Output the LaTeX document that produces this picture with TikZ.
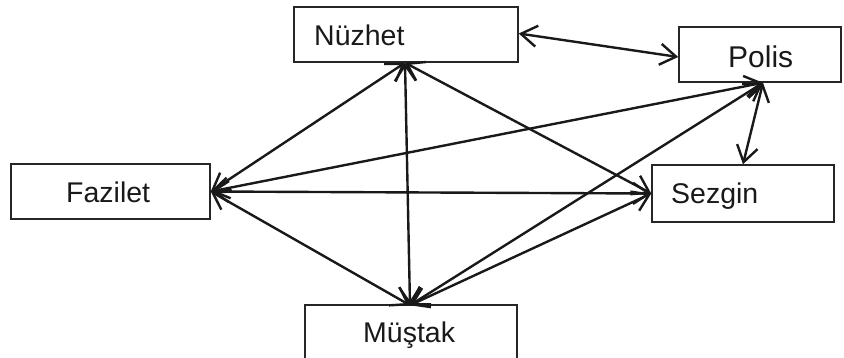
\documentclass[tikz,border=0pt]{standalone}
\usepackage{fontspec}
\setmainfont{Liberation Sans}
\usetikzlibrary{arrows.meta}
\begin{document}
\begin{tikzpicture}[x=1pt,y=-1pt,
  box/.style={draw=black!85, line width=1.5pt, rectangle, inner sep=0pt},
  lbl/.style={font=\fontsize{28.5}{30}\selectfont, text=black!90, inner sep=0pt, anchor=base west},
  link/.style={line width=2.4pt, draw=black!90,
    {Straight Barb[length=16pt,width=21pt]}-{Straight Barb[length=16pt,width=21pt]}}]
\clip (0,0) rectangle (844,357);
% boxes
\node[box, minimum width=224pt, minimum height=55pt] (nuz) at (406,34.5) {};
\node[box, minimum width=162pt, minimum height=55pt] (pol) at (760,54.5) {};
\node[box, minimum width=199pt, minimum height=55pt] (faz) at (110.5,191.5) {};
\node[box, minimum width=182pt, minimum height=57pt] (sez) at (743,193.5) {};
\node[box, minimum width=212pt, minimum height=58pt] (mus) at (411,334) {};
% labels
\node[lbl] (nuzt) at (314,45) {Nüzhet};
\node[lbl, font=\fontsize{30}{32}\selectfont] (polt) at (728,67) {Polis};
\node[lbl] (fazt) at (66,202) {Fazilet};
\node[lbl] (sezt) at (671,203) {Sezgin};
\node[lbl] (must) at (363,342) {Müştak};
% connectors
\coordinate (nuzE) at ([yshift=1pt]nuz.east);
\coordinate (polW) at ([yshift=-2.5pt]pol.west);
\coordinate (polS) at ([xshift=3pt]pol.south);
\coordinate (nuzS) at ([xshift=-1pt]nuz.south);
\coordinate (musN) at ([xshift=-1pt,yshift=-1pt]mus.north);
\draw[link] (nuzE) -- (polW);
\draw[link] (nuzS) -- (faz.east);
\draw[link] (nuzS) -- (musN);
\draw[link] (nuzS) -- (sez.west);
\draw[link] (faz.east) -- (polS);
\draw[link] (faz.east) -- (sez.west);
\draw[link] (faz.east) -- (musN);
\draw[link] (musN) -- (polS);
\draw[link] (musN) -- (sez.west);
\draw[link] (polS) -- (sez.north);
\end{tikzpicture}
\end{document}
